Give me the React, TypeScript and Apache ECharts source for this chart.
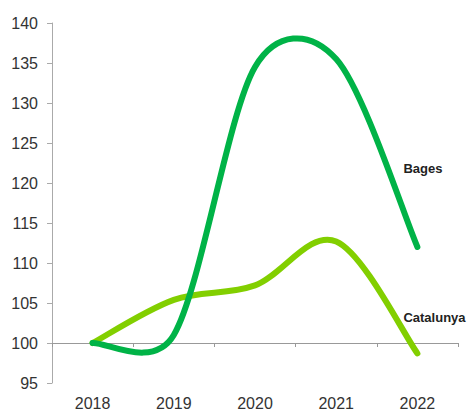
import React, { useEffect, useRef } from "react";
import * as echarts from "echarts";

const years = ["2018", "2019", "2020", "2021", "2022"];
const bages = [100, 101, 134.5, 135.5, 112];
const catalunya = [100, 105.4, 107.2, 112.7, 98.7];
const yMin = 95;
const yMax = 140;
const yStep = 5;
const baseLine = 100;

const FONT = "'Liberation Sans', Arial, sans-serif";

type Pt = number[];

// Spreadsheet-style smoothing: tangent along (next - prev), handle = |v|/6,
// capped at half of the adjacent segment.
function smoothPath(pts: Pt[]): string {
  const n = pts.length;
  const before: Pt[] = [];
  const after: Pt[] = [];
  for (let i = 0; i < n; i++) {
    const p = pts[i];
    const prev = pts[i - 1];
    const next = pts[i + 1];
    const a = prev || p;
    const b = next || p;
    const vx = b[0] - a[0];
    const vy = b[1] - a[1];
    const len = Math.hypot(vx, vy) || 1;
    const ux = vx / len;
    const uy = vy / len;
    const h = len / 6;
    const l0 = prev ? Math.hypot(p[0] - prev[0], p[1] - prev[1]) : 0;
    const l1 = next ? Math.hypot(next[0] - p[0], next[1] - p[1]) : 0;
    const hb = Math.min(h, 0.5 * l0);
    const ha = Math.min(h, 0.5 * l1);
    before.push([p[0] - ux * hb, p[1] - uy * hb]);
    after.push([p[0] + ux * ha, p[1] + uy * ha]);
  }
  let d = `M${pts[0][0]},${pts[0][1]}`;
  for (let i = 1; i < n; i++) {
    const c0 = after[i - 1];
    const c1 = before[i];
    const p = pts[i];
    d += ` C${c0[0]},${c0[1]} ${c1[0]},${c1[1]} ${p[0]},${p[1]}`;
  }
  return d;
}

function makeSeries(
  name: string,
  values: number[],
  color: string,
  labelDx: number,
  labelDy: number,
  z: number
) {
  return {
    name,
    type: "custom",
    data: values.map((v, i) => [i, v]),
    encode: { x: 0, y: 1 },
    z,
    renderItem: (params: any, api: any) => {
      if (params.dataIndex !== 0) return null;
      const pts = values.map((v, i) => api.coord([i, v]));
      const end = pts[pts.length - 1];
      return {
        type: "group",
        children: [
          {
            type: "path",
            shape: { pathData: smoothPath(pts) },
            style: {
              stroke: color,
              lineWidth: 6,
              fill: "none",
              lineCap: "round",
              lineJoin: "round",
            },
          },
          {
            type: "text",
            x: end[0] + labelDx,
            y: end[1] + labelDy,
            style: {
              text: name,
              fill: "#222",
              fontFamily: FONT,
              fontWeight: "bold",
              fontSize: 13,
              align: "left",
              verticalAlign: "middle",
            },
          },
        ],
      };
    },
  };
}

export default function App() {
  const ref = useRef<HTMLDivElement>(null);
  useEffect(() => {
    if (!ref.current) return;
    const chart = echarts.init(ref.current, undefined, { renderer: "svg" });
    const gridTop = 23;
    const gridBottom = 29;
    const plotH = 412 - gridTop - gridBottom;
    const baseOffset = -((baseLine - yMin) / (yMax - yMin)) * plotH;
    chart.setOption({
      animation: false,
      backgroundColor: "#ffffff",
      grid: { left: 52, right: 16, top: gridTop, bottom: gridBottom, containLabel: false },
      xAxis: [
        {
          type: "category",
          data: years,
          boundaryGap: true,
          axisLine: { show: false },
          axisTick: { show: false },
          axisLabel: { color: "#333", fontSize: 16, fontFamily: FONT, margin: 12 },
        },
        {
          type: "category",
          data: years,
          boundaryGap: true,
          position: "bottom",
          offset: baseOffset,
          axisLine: { show: true, lineStyle: { color: "#999", width: 1 } },
          axisTick: { show: true, length: 4, lineStyle: { color: "#999" } },
          axisLabel: { show: false },
        },
      ],
      yAxis: {
        type: "value",
        min: yMin,
        max: yMax,
        interval: yStep,
        axisLine: { show: true, lineStyle: { color: "#aaa", width: 1 } },
        axisTick: { show: true, length: 5, lineStyle: { color: "#aaa" } },
        splitLine: { show: false },
        axisLabel: { color: "#333", fontSize: 16, fontFamily: FONT, margin: 14 },
      },
      series: [
        makeSeries("Bages", bages, "#00b347", -14, -79, 3),
        makeSeries("Catalunya", catalunya, "#82cf00", -14, -36, 2),
      ],
    });
    return () => chart.dispose();
  }, []);
  return (
    <div
      ref={ref}
      style={{ position: "absolute", left: 0, top: 0, width: 474, height: 412 }}
    />
  );
}
